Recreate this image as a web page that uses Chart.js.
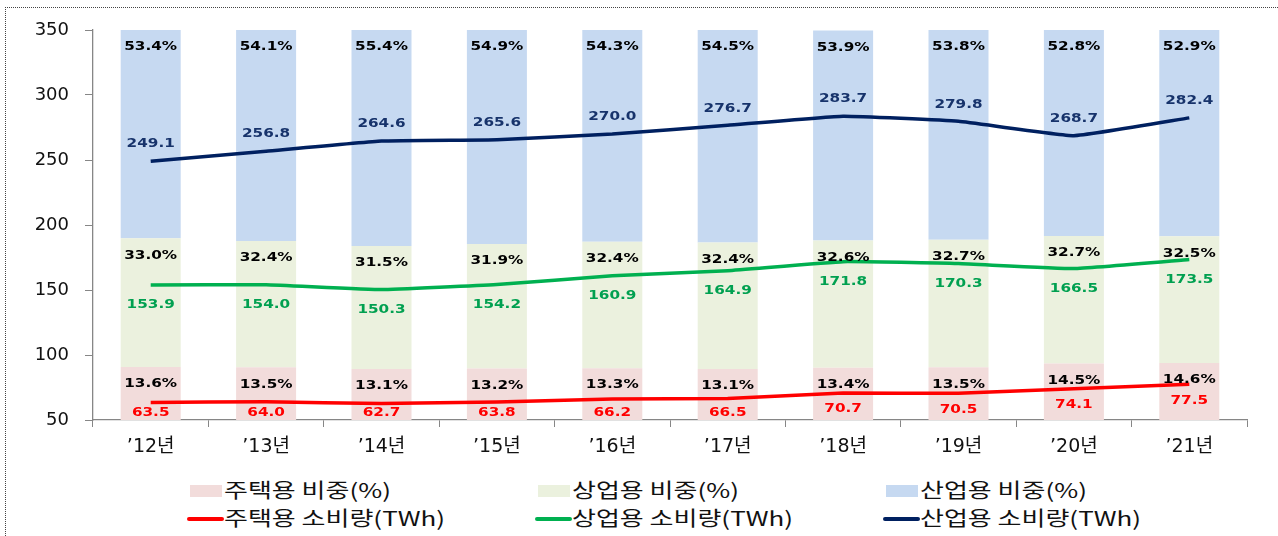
<!DOCTYPE html>
<html>
<head>
<meta charset="utf-8">
<script src="https://cdn.jsdelivr.net/npm/chart.js@4.4.1/dist/chart.umd.min.js"></script>
<style>
  body { margin:0; background:#fff; }
  #wrap { position:relative; width:1278px; height:536px; overflow:hidden; }
  #frame { position:absolute; left:5px; top:7px; width:1290px; height:540px;
           border-top:1px dotted #444; border-left:1px dotted #444; }
  #cv { position:absolute; left:0; top:0; }
  .lg { position:absolute; font-family:"Noto Sans CJK KR", sans-serif; font-size:20px; color:#111;
        transform:scaleX(1.3); transform-origin:left center; white-space:nowrap; line-height:22px; }
  .sw { position:absolute; }
</style>
</head>
<body>
<div id="wrap">
  <div id="frame"></div>
  <canvas id="cv" width="1278" height="470"></canvas>
  <div id="legend"></div>
</div>
<script>
const years = ["’12년","’13년","’14년","’15년","’16년","’17년","’18년","’19년","’20년","’21년"];

// share of consumption (%)
const resShare = [13.6,13.5,13.1,13.2,13.3,13.1,13.4,13.5,14.5,14.6];
const comShare = [33.0,32.4,31.5,31.9,32.4,32.4,32.6,32.7,32.7,32.5];
const indShare = [53.4,54.1,55.4,54.9,54.3,54.5,53.9,53.8,52.8,52.9];

// consumption (TWh)
const resUse = [63.5,64.0,62.7,63.8,66.2,66.5,70.7,70.5,74.1,77.5];
const comUse = [153.9,154.0,150.3,154.2,160.9,164.9,171.8,170.3,166.5,173.5];
const indUse = [249.1,256.8,264.6,265.6,270.0,276.7,283.7,279.8,268.7,282.4];

const yTicks = [50,100,150,200,250,300,350];

const barColors = ["#F2DCDB","#EBF1DE","#C6D9F1"];
const lineColors = ["#FF0000","#00B050","#002060"];
const valColors = ["#FF0000","#00A050","#17336B"];

// draw the numbers on bars and lines
const labelPlugin = {
  id: 'lbls',
  afterDatasetsDraw(chart){
    const ctx = chart.ctx;
    const bottom = chart.chartArea.bottom;
    ctx.save();
    ctx.font = "bold 12.5px 'DejaVu Sans'";
    ctx.textAlign = "center";
    ctx.textBaseline = "middle";
    const put = (txt, x, y, col)=>{
      ctx.save();
      ctx.translate(x, y);
      ctx.scale(1.22, 1);
      ctx.fillStyle = col;
      ctx.fillText(txt, 0, 0);
      ctx.restore();
    };
    chart.data.datasets.forEach((ds, i)=>{
      const meta = chart.getDatasetMeta(i);
      meta.data.forEach((el, j)=>{
        const v = ds.data[j];
        if(ds.type === 'bar'){
          const top = Math.min(el.y, el.base);
          put(v.toFixed(1) + "%", el.x, top + 17, "#000");
        } else {
          let y;
          if(ds.kind === 'ind') y = el.y - 17;
          else if(ds.kind === 'com') y = el.y + 20;
          else y = Math.min(el.y + 16, bottom - 7);
          put(v.toFixed(1), el.x, y, ds.valColor);
        }
      });
    });
    ctx.restore();
  }
};

const barDs = (lbl, data, col)=>({
  type:'bar', label:lbl, data:data, backgroundColor:col, yAxisID:'y2',
  stack:'s', barPercentage:0.52, categoryPercentage:1, order:2
});
const lineDs = (lbl, data, col, vc, kind)=>({
  type:'line', label:lbl, data:data, borderColor:col, backgroundColor:col, yAxisID:'y',
  borderWidth:3.5, pointRadius:0, tension:0.1, fill:false, valColor:vc, kind:kind, order:1
});

const chart = new Chart(document.getElementById("cv"), {
  data: {
    labels: years,
    datasets: [
      barDs("주택용 비중(%)", resShare, barColors[0]),
      barDs("상업용 비중(%)", comShare, barColors[1]),
      barDs("산업용 비중(%)", indShare, barColors[2]),
      lineDs("주택용 소비량(TWh)", resUse, lineColors[0], valColors[0], 'res'),
      lineDs("상업용 소비량(TWh)", comUse, lineColors[1], valColors[1], 'com'),
      lineDs("산업용 소비량(TWh)", indUse, lineColors[2], valColors[2], 'ind')
    ]
  },
  options: {
    responsive:false,
    animation:false,
    layout:{ padding:{ top:30, right:31, left:0, bottom:0 } },
    plugins:{ legend:{ display:false }, tooltip:{ enabled:false } },
    scales:{
      x:{
        stacked:true,
        offset:true,
        grid:{ offset:true, drawOnChartArea:false, tickLength:7, color:"#868686" },
        border:{ color:"#868686", width:1.3 },
        ticks:{ color:"#111", padding:9, font:{ family:"DejaVu Sans, 'Noto Sans CJK KR'", size:19 } },
        afterFit(s){ s.height = 50; }
      },
      y:{
        min:50, max:350,
        afterBuildTicks(s){ s.ticks = yTicks.map(v=>({value:v})); },
        grid:{ drawOnChartArea:false, tickLength:8, color:"#868686" },
        border:{ color:"#868686", width:1.3 },
        ticks:{ color:"#111", padding:16, font:{ family:"DejaVu Sans", size:18 } },
        afterFit(s){ s.width = 93; }
      },
      y2:{
        display:false, stacked:true, min:0, max:100
      }
    }
  },
  plugins:[labelPlugin]
});

// legend, 3 columns x 2 rows
const lg = document.getElementById("legend");
const cols = [190, 538, 886];
chart.data.datasets.forEach((ds, i)=>{
  const c = i % 3, r = Math.floor(i / 3);
  const x = cols[c];
  const yc = r === 0 ? 491 : 519;
  const sw = document.createElement("div");
  sw.className = "sw";
  if(ds.type === 'bar'){
    sw.style.cssText = `left:${x}px;top:${yc-6}px;width:32px;height:12px;background:${ds.backgroundColor}`;
  } else {
    sw.style.cssText = `left:${x-3}px;top:${yc-2}px;width:37px;height:4px;border-radius:2px;background:${ds.borderColor}`;
  }
  lg.appendChild(sw);
  const t = document.createElement("div");
  t.className = "lg";
  t.style.left = (x + 34) + "px";
  t.style.top = (yc - 12) + "px";
  t.textContent = ds.label;
  lg.appendChild(t);
});
</script>
</body>
</html>
